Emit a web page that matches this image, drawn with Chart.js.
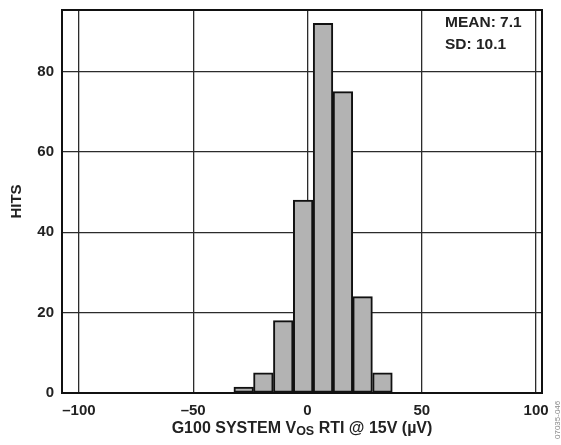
<!DOCTYPE html>
<html>
<head>
<meta charset="utf-8">
<script src="https://cdn.jsdelivr.net/npm/chart.js@4.4.1/dist/chart.umd.min.js"></script>
<style>
    html, body { margin: 0; padding: 0; background: #fff; }
    #wrap { width: 561px; height: 445px; position: relative; }
</style>
</head>
<body>
<div id="wrap"><canvas id="hist"></canvas></div>
<script>
// bin centres (uV) and counts
const binCenters = [-27.9, -19.3, -10.6, -1.9, 6.8, 15.5, 24.1, 32.8];
const hits = [1.5, 5, 18, 48, 92, 75, 24, 5];
const xTicks = [-100, -50, 0, 50, 100];
const yTicks = [0, 20, 40, 60, 80];
const statLines = ['MEAN: 7.1', 'SD: 10.1'];
const xTitleParts = ['G100 SYSTEM V', 'OS', ' RTI @ 15V (µV)'];
const figureId = '07035-046';

const FONT = '"Liberation Sans", Arial, Helvetica, sans-serif';
const INK = '#222';

// frame round the plot, the stats box text, x title with subscript, figure id
const extrasPlugin = {
    id: 'extras',
    afterDraw: function (chart) {
        const ctx = chart.ctx;
        const a = chart.chartArea;
        ctx.save();
        ctx.strokeStyle = '#111';
        ctx.lineWidth = 2;
        ctx.strokeRect(a.left, a.top, a.right - a.left, a.bottom - a.top);

        ctx.fillStyle = INK;
        ctx.textBaseline = 'alphabetic';
        ctx.textAlign = 'left';
        ctx.font = 'bold 15.5px ' + FONT;
        statLines.forEach(function (t, i) {
            ctx.fillText(t, a.right - 97, a.top + 17 + i * 22);
        });

        // x axis title, "OS" set as a subscript
        const mainFont = 'bold 16px ' + FONT;
        const subFont = 'bold 12.5px ' + FONT;
        ctx.font = mainFont;
        const w0 = ctx.measureText(xTitleParts[0]).width;
        const w2 = ctx.measureText(xTitleParts[2]).width;
        ctx.font = subFont;
        const w1 = ctx.measureText(xTitleParts[1]).width;
        let x = (a.left + a.right) / 2 - (w0 + w1 + w2) / 2;
        const base = a.bottom + 39.5;
        ctx.font = mainFont;
        ctx.fillText(xTitleParts[0], x, base);
        x += w0;
        ctx.font = subFont;
        ctx.fillText(xTitleParts[1], x, base + 2.5);
        x += w1;
        ctx.font = mainFont;
        ctx.fillText(xTitleParts[2], x, base);

        // small rotated figure number at the right edge
        ctx.translate(561, 445);
        ctx.rotate(-Math.PI / 2);
        ctx.font = '8px ' + FONT;
        ctx.fillStyle = '#888';
        ctx.fillText(figureId, 6, -1);
        ctx.restore();
    }
};

const histogramChart = new Chart('hist', {
    type: 'bar',
    data: {
        datasets: [{
            data: binCenters.map(function (c, i) { return { x: c, y: hits[i] }; }),
            backgroundColor: '#b3b3b3',
            borderColor: '#111',
            borderWidth: 2,
            borderSkipped: false,
            barPercentage: 1,
            categoryPercentage: 1,
            grouped: false
        }]
    },
    options: {
        responsive: true,
        maintainAspectRatio: false,
        animation: false,
        layout: { padding: { top: 10, right: 19, left: 0, bottom: 0 } },
        plugins: {
            legend: { display: false },
            tooltip: { enabled: false }
        },
        scales: {
            x: {
                type: 'linear',
                min: -107.4,
                max: 102.6,
                offset: false,
                afterBuildTicks: function (s) { s.ticks = xTicks.map(function (v) { return { value: v }; }); },
                afterFit: function (s) { s.height = 52; },
                grid: { color: '#2b2b2b', lineWidth: 1.3, drawTicks: false, offset: false },
                border: { display: true, color: '#111', width: 2 },
                ticks: {
                    padding: 9,
                    color: INK,
                    font: { family: FONT, size: 15, weight: 'bold' },
                    maxRotation: 0,
                    callback: function (v) { return v < 0 ? '\u2013' + Math.abs(v) : String(v); }
                }
            },
            y: {
                min: 0,
                max: 95.3,
                afterBuildTicks: function (s) { s.ticks = yTicks.map(function (v) { return { value: v }; }); },
                afterFit: function (s) { s.width = 62; s.paddingTop = 0; s.paddingBottom = 0; },
                grid: { color: '#2b2b2b', lineWidth: 1.3, drawTicks: false },
                border: { display: true, color: '#111', width: 2 },
                ticks: {
                    padding: 8,
                    color: INK,
                    font: { family: FONT, size: 15, weight: 'bold' }
                },
                title: {
                    display: true,
                    text: 'HITS',
                    color: INK,
                    font: { family: FONT, size: 15, weight: 'bold' },
                    padding: { top: 8, bottom: 0 }
                }
            }
        }
    },
    plugins: [extrasPlugin]
});
</script>
</body>
</html>
